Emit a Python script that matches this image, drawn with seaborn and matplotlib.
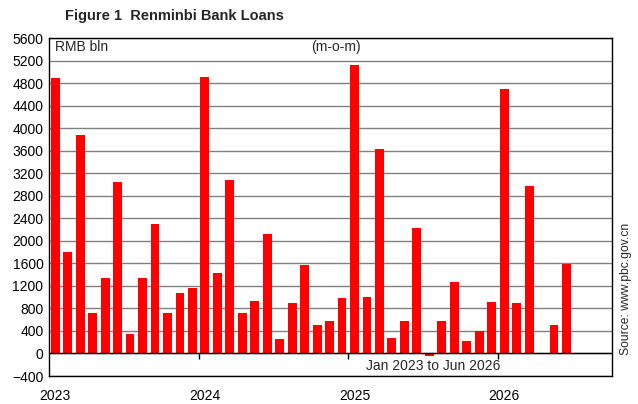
import numpy as np
import pandas as pd
import matplotlib
matplotlib.use('Agg')
import matplotlib.pyplot as plt
import seaborn as sns

# 月度人民币贷款增量 (RMB bln), Jan 2023 - Jun 2026, Apr 2026 无数据
months = pd.date_range('2023-01-01', '2026-06-01', freq='MS')
loans = [4890, 1810, 3885, 710, 1348, 3050, 340, 1348, 2306, 727, 1082, 1171,
         4914, 1437, 3087, 727, 940, 2129, 250, 887, 1579, 497, 568, 976,
         5127, 1011, 3636, 266, 568, 2235, -47, 585, 1277, 213, 390, 905,
         4701, 887, 2980, np.nan, 514, 1597]
year_labels = ['2023', '2024', '2025', '2026']

data = pd.DataFrame({'idx': np.arange(len(months)), 'loans': loans})

sns.set_style('white')
plt.rcParams['font.family'] = ['Liberation Sans', 'DejaVu Sans']

fig = plt.figure(figsize=(6.38, 4.04), dpi=100)
ax = fig.add_axes([49/638, 28/404, 563/638, 338/404])

sns.barplot(data=data.dropna(), x='idx', y='loans', native_scale=True,
            color='#ff0000', saturation=1, width=0.71, linewidth=0,
            edgecolor='none', ax=ax, zorder=3)

ax.set_xlim(-0.5, 44.65)
ax.set_ylim(-400, 5600)
ax.set_yticks(np.arange(-400, 5601, 400))
ax.yaxis.grid(True, color='#808080', linewidth=1, zorder=0)
ax.set_axisbelow(True)
ax.axhline(0, color='black', linewidth=1, zorder=4)
ax.tick_params(axis='y', length=0, pad=4, labelsize=10, colors='black')

# 年份标签放在每年一月
ax.set_xticks([0, 12, 24, 36])
ax.set_xticklabels(year_labels)
ax.tick_params(axis='x', length=0, pad=9, labelsize=10, colors='black')
ax.set_xlabel('')
ax.set_ylabel('')

# 零线上的年份分隔刻度
sec = ax.secondary_xaxis(400/6000)
sec.set_xticks([11.5, 23.5, 35.5])
sec.set_xticklabels([])
sec.tick_params(axis='x', direction='out', length=4, width=1, colors='black')
sec.spines['bottom'].set_visible(False)

for s in ax.spines.values():
    s.set_visible(True)
    s.set_color('black')
    s.set_linewidth(1)

ax.text(0.011, 0.972, 'RMB bln', transform=ax.transAxes, fontsize=10, va='center', ha='left')
ax.text(0.51, 0.972, '(m-o-m)', transform=ax.transAxes, fontsize=10, va='center', ha='center')
ax.text(0.682, 0.03, 'Jan 2023 to Jun 2026', transform=ax.transAxes, fontsize=10, va='center', ha='center')

fig.text(65/638, 1 - 16/404, 'Figure 1  Renminbi Bank Loans', fontsize=10.5,
         fontweight='bold', va='center', ha='left')
fig.text(626/638, 1 - 355/404, 'Source: www.pbc.gov.cn', fontsize=8.7,
         rotation=90, va='bottom', ha='center')

fig.savefig('out.png', dpi=100)
